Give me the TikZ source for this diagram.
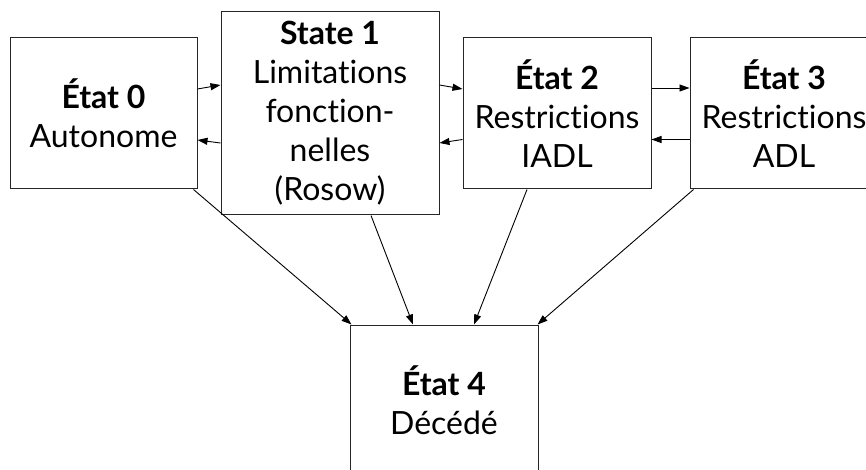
\documentclass[tikz,border=0pt]{standalone}
\usepackage{fontspec}
\setmainfont{Lato}[Ligatures=NoCommon]
\usetikzlibrary{arrows.meta,calc}
\begin{document}
\begin{tikzpicture}[x=1pt,y=-1pt,
  statebox/.style={draw=black!85, line width=1pt, rectangle, inner sep=0pt, align=center,
    font={\fontsize{32}{39}\selectfont}, text=black},
  smallbox/.style={statebox, minimum width=188pt, minimum height=151pt},
  conn/.style={draw=black, line width=0.9pt, -{Triangle[length=10pt,width=7pt]}}
]
\useasboundingbox (0,0) rectangle (866,470);
\clip (0,0) rectangle (866,470);
\node[smallbox, minimum width=187pt] (b0) at (103.5,113.5) {\textbf{État 0}\\Autonome};
\node[statebox, minimum width=218pt, minimum height=203pt] (b1) at (330,113.5) {\textbf{State 1}\\Limitations\\fonction-\\nelles\\(Rosow)};
\node[smallbox] (b2) at (557,113.5) {\textbf{État 2}\\Restrictions\\IADL};
\node[smallbox] (b3) at (784,113.5) {\textbf{État 3}\\Restrictions\\ADL};
\node[smallbox] (b4) at (444,400.5) {\textbf{État 4}\\Décédé};

\draw[conn] ($(b0.east)+(0,-24.5)$) -- ($(b1.west)+(0,-28.5)$);
\draw[conn] ($(b1.west)+(0,29.5)$) -- ($(b0.east)+(0,26.5)$);
\draw[conn] ($(b1.east)+(0,-28.5)$) -- ($(b2.west)+(0,-24.5)$);
\draw[conn] ($(b2.west)+(0,26)$) -- ($(b1.east)+(0,29.5)$);
\draw[conn] ($(b2.east)+(0,-25.5)$) -- ($(b3.west)+(0,-25.5)$);
\draw[conn] ($(b3.west)+(0,26)$) -- ($(b2.east)+(0,26)$);

\draw[conn] ($(b0.south east)+(-4,0)$) -- ($(b4.north west)+(2,0)$);
\draw[conn] ($(b1.south)+(41,0)$) -- ($(b4.north)+(-31,0)$);
\draw[conn] ($(b2.south)+(-30,0)$) -- ($(b4.north)+(30,0)$);
\draw[conn] ($(b3.south west)+(4,0)$) -- ($(b4.north east)+(-1,0)$);
\end{tikzpicture}
\end{document}
